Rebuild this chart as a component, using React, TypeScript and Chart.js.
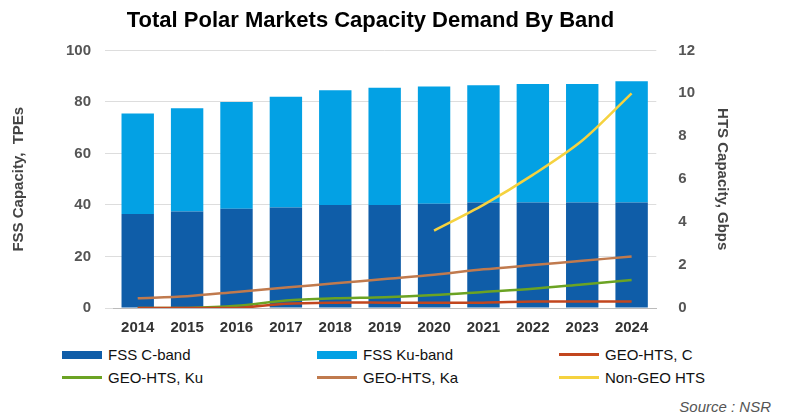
import React, { useEffect, useRef } from "react";
import { Chart, registerables } from "chart.js";
Chart.register(...registerables);

const years = ["2014","2015","2016","2017","2018","2019","2020","2021","2022","2023","2024"];
const fssC = [36.5, 37.5, 38.5, 39, 40, 40, 40.5, 41, 41, 41, 41];
const fssTotal = [75.5, 77.5, 80, 82, 84.5, 85.5, 86, 86.5, 87, 87, 88];
const fssKu = fssTotal.map((t, i) => t - fssC[i]);
const geoC = [0, 0, 0, 0.2, 0.25, 0.25, 0.25, 0.25, 0.3, 0.3, 0.3];
const geoKu = [0, 0, 0.1, 0.35, 0.45, 0.5, 0.6, 0.75, 0.9, 1.1, 1.3];
const geoKa = [0.45, 0.55, 0.75, 0.95, 1.15, 1.35, 1.55, 1.8, 2.0, 2.2, 2.4];
const nonGeo = [null, null, null, null, null, null, 3.6, 4.8, 6.2, 7.8, 10];

const colors = { c: "#0F5DA8", ku: "#03A1E4", gc: "#C2461E", gku: "#6BA323", gka: "#C07A4E", ng: "#F5D23F" };

const legendItems = [
  { label: "FSS C-band", color: colors.c, bar: true },
  { label: "FSS Ku-band", color: colors.ku, bar: true },
  { label: "GEO-HTS, C", color: colors.gc, bar: false },
  { label: "GEO-HTS, Ku", color: colors.gku, bar: false },
  { label: "GEO-HTS, Ka", color: colors.gka, bar: false },
  { label: "Non-GEO HTS", color: colors.ng, bar: false },
];

export default function App() {
  const ref = useRef<HTMLCanvasElement>(null);
  useEffect(() => {
    document.body.style.margin = "0";
    const font = { family: "Arial, 'Liberation Sans', sans-serif", weight: "bold" as const, size: 15 };
    const line = (label: string, data: any[], color: string) => ({
      type: "line" as const, label, data, borderColor: color, backgroundColor: color,
      borderWidth: 2.5, pointRadius: 0, yAxisID: "y1", tension: 0.3, order: 0,
    });
    const chart = new Chart(ref.current!, {
      data: {
        labels: years,
        datasets: [
          { type: "bar", label: "FSS C-band", data: fssC, backgroundColor: colors.c, yAxisID: "y", stack: "s", order: 1, categoryPercentage: 0.8, barPercentage: 0.82 },
          { type: "bar", label: "FSS Ku-band", data: fssKu, backgroundColor: colors.ku, yAxisID: "y", stack: "s", order: 1, categoryPercentage: 0.8, barPercentage: 0.82 },
          line("GEO-HTS, C", geoC, colors.gc),
          line("GEO-HTS, Ku", geoKu, colors.gku),
          line("GEO-HTS, Ka", geoKa, colors.gka),
          line("Non-GEO HTS", nonGeo, colors.ng),
        ],
      },
      options: {
        responsive: false, animation: false,
        layout: { padding: { left: 6, right: 50, top: 4, bottom: 0 } },
        plugins: {
          legend: { display: false }, tooltip: { enabled: false },
          title: { display: true, text: "Total Polar Markets Capacity Demand By Band", font: { ...font, size: 22 }, color: "#000", padding: { top: 4, bottom: 16 } },
        },
        scales: {
          x: { stacked: true, grid: { display: false }, border: { color: "#bbb" }, ticks: { font, color: "#333" } },
          y: { stacked: true, min: 0, max: 100, ticks: { stepSize: 20, font, color: "#555", padding: 14 }, grid: { color: "#ddd" }, border: { display: false },
            title: { display: true, text: "FSS Capacity,  TPEs", font: { ...font, size: 15 }, color: "#444", padding: { bottom: 24 } } },
          y1: { position: "right", min: 0, max: 12, ticks: { stepSize: 2, font, color: "#555", padding: 14 }, grid: { display: false }, border: { display: false },
            title: { display: true, text: "HTS Capacity, Gbps", font: { ...font, size: 15 }, color: "#444" } },
        },
      },
    });
    return () => chart.destroy();
  }, []);
  return (
    <div style={{ width: 785, height: 420, position: "relative", fontFamily: "Arial, 'Liberation Sans', sans-serif", background: "#fff" }}>
      <canvas ref={ref} width={785} height={340} style={{ display: "block" }} />
      <div style={{ position: "absolute", left: 62, top: 346, width: 720, display: "grid", gridTemplateColumns: "255px 242px 220px", rowGap: 6, fontSize: 15, color: "#111" }}>
        {legendItems.map((it) => (
          <div key={it.label} style={{ display: "flex", alignItems: "center" }}>
            <span style={{ display: "inline-block", width: 40, height: it.bar ? 8 : 2.5, background: it.color, marginRight: 6 }} />
            {it.label}
          </div>
        ))}
      </div>
      <div style={{ position: "absolute", right: 14, top: 398, fontStyle: "italic", fontSize: 15, color: "#555" }}>Source : NSR</div>
    </div>
  );
}
